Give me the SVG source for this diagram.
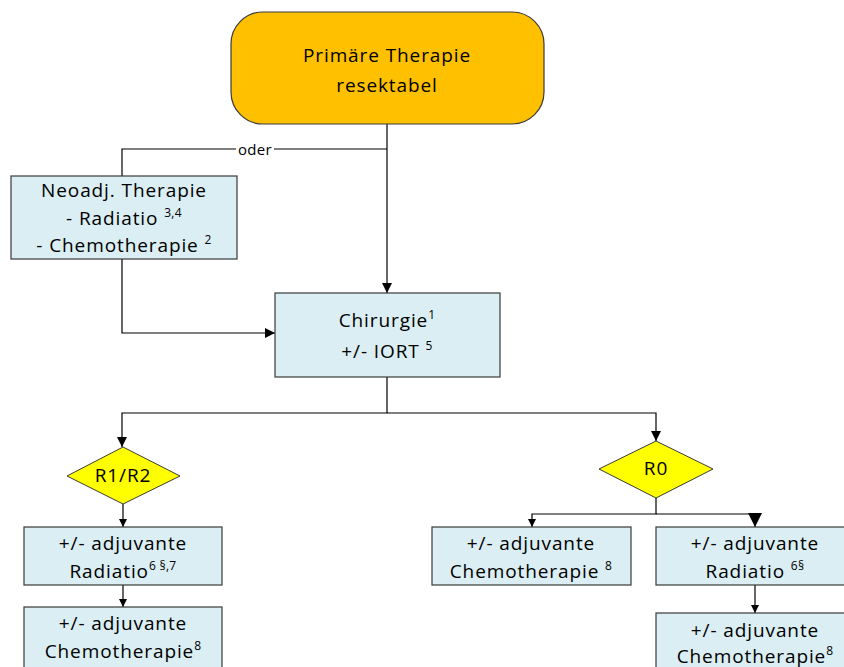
<svg xmlns="http://www.w3.org/2000/svg" width="844" height="667" viewBox="0 0 844 667">
<style>
text{font-family:"Open Sans","Liberation Sans",sans-serif;font-size:19px;letter-spacing:0.9px;fill:#000;text-anchor:middle}
.sup{font-size:12px;letter-spacing:0.3px}
.box{fill:#DAEEF3;stroke:#3a3a3a;stroke-width:1.2}
.dia{fill:#FFFF00;stroke:#3a3a3a;stroke-width:1}
.ln{fill:none;stroke:#000;stroke-width:1.2}
</style>
<defs>
<marker id="a" markerWidth="10" markerHeight="10" refX="10" refY="5" orient="auto" markerUnits="userSpaceOnUse"><path d="M0,0 L10,5 L0,10 Z" fill="#000"/></marker>
<marker id="as" markerWidth="8" markerHeight="8" refX="8" refY="4" orient="auto" markerUnits="userSpaceOnUse"><path d="M0,0 L8,4 L0,8 Z" fill="#000"/></marker>
<marker id="ab" markerWidth="14" markerHeight="14" refX="14" refY="7" orient="auto" markerUnits="userSpaceOnUse"><path d="M0,0 L14,7 L0,14 Z" fill="#000"/></marker>
</defs>
<g id="connectors">
<path class="ln" d="M387,124 V293" marker-end="url(#a)"/>
<path class="ln" d="M387,149 H274 M236,149 H122 V176"/>
<text x="255" y="155" style="font-size:15px;letter-spacing:0.3px">oder</text>
<path class="ln" d="M122,259 V333 H275" marker-end="url(#a)"/>
<path class="ln" d="M387,377 V413 H122 V447" marker-end="url(#a)"/>
<path class="ln" d="M387,413 H656 V441" marker-end="url(#a)"/>
<path class="ln" d="M123,504 V527" marker-end="url(#as)"/>
<path class="ln" d="M123,585 V607" marker-end="url(#as)"/>
<path class="ln" d="M656,498 V514 H532 V527" marker-end="url(#as)"/>
<path class="ln" d="M656,514 H755 V527" marker-end="url(#ab)"/>
<path class="ln" d="M755,585 V613" marker-end="url(#as)"/>
</g>
<g id="start">
<rect x="231" y="12" width="313" height="112" rx="32" fill="#FFC000" stroke="#3a3a3a" stroke-width="1.2"/>
<text x="387" y="62">Primäre Therapie</text>
<text x="387" y="92">resektabel</text>
</g>
<g id="neoadj">
<rect class="box" x="11" y="176" width="226" height="83"/>
<text x="124" y="197">Neoadj. Therapie</text>
<text x="124" y="225">- Radiatio <tspan class="sup" dy="-8">3,4</tspan></text>
<text x="124" y="252">- Chemotherapie <tspan class="sup" dy="-8">2</tspan></text>
</g>
<g id="chirurgie">
<rect class="box" x="275" y="293" width="225" height="84"/>
<text x="387" y="327">Chirurgie<tspan class="sup" dy="-8">1</tspan></text>
<text x="387" y="358">+/- IORT <tspan class="sup" dy="-8">5</tspan></text>
</g>
<g id="r1r2">
<polygon class="dia" points="123,447 180,476 123,504 67,476"/>
<text x="123" y="482">R1/R2</text>
</g>
<g id="r0">
<polygon class="dia" points="656,441 713,469 656,498 599,469"/>
<text x="656" y="475">R0</text>
</g>
<g id="r1-radiatio">
<rect class="box" x="24" y="527" width="198" height="58"/>
<text x="123" y="550">+/- adjuvante</text>
<text x="123" y="578">Radiatio<tspan class="sup" dy="-8">6 §,7</tspan></text>
</g>
<g id="r1-chemo">
<rect class="box" x="24" y="607" width="198" height="62"/>
<text x="123" y="630">+/- adjuvante</text>
<text x="123" y="658">Chemotherapie<tspan class="sup" dy="-8">8</tspan></text>
</g>
<g id="r0-chemo">
<rect class="box" x="432" y="527" width="199" height="58"/>
<text x="531" y="550">+/- adjuvante</text>
<text x="531" y="578">Chemotherapie <tspan class="sup" dy="-8">8</tspan></text>
</g>
<g id="r0-radiatio">
<rect class="box" x="656" y="527" width="190" height="58"/>
<text x="755" y="550">+/- adjuvante</text>
<text x="755" y="578">Radiatio <tspan class="sup" dy="-8">6§</tspan></text>
</g>
<g id="r0-chemo2">
<rect class="box" x="656" y="613" width="190" height="60"/>
<text x="755" y="637">+/- adjuvante</text>
<text x="755" y="663">Chemotherapie<tspan class="sup" dy="-8">8</tspan></text>
</g>
</svg>
